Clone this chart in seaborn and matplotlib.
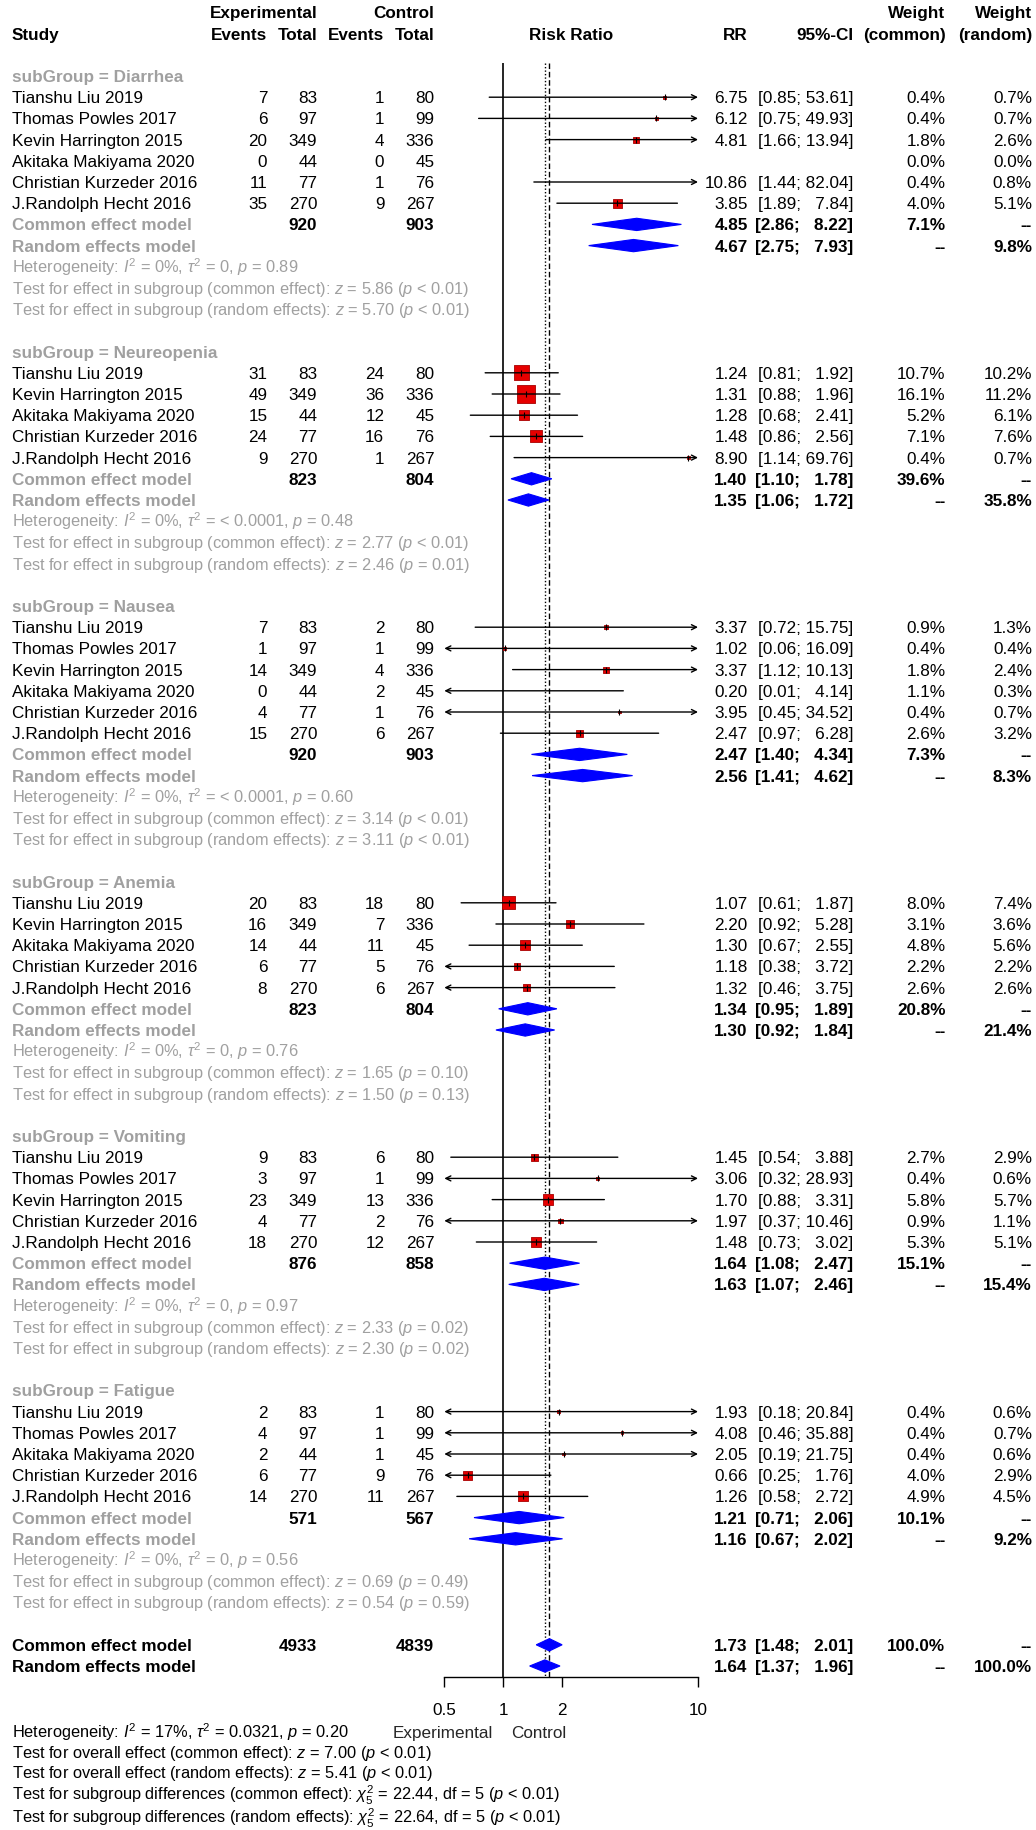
import numpy as np
import pandas as pd
import matplotlib
matplotlib.use("Agg")
import matplotlib.pyplot as plt
import matplotlib.transforms as mtransforms
from matplotlib.ticker import NullLocator
import seaborn as sns

nan = np.nan

# Data (one inner list per subgroup)
groups = ["Diarrhea", "Neureopenia", "Nausea", "Anemia", "Vomiting", "Fatigue"]

study = [
    ["Tianshu Liu 2019", "Thomas Powles 2017", "Kevin Harrington 2015", "Akitaka Makiyama 2020", "Christian Kurzeder 2016", "J.Randolph Hecht 2016"],
    ["Tianshu Liu 2019", "Kevin Harrington 2015", "Akitaka Makiyama 2020", "Christian Kurzeder 2016", "J.Randolph Hecht 2016"],
    ["Tianshu Liu 2019", "Thomas Powles 2017", "Kevin Harrington 2015", "Akitaka Makiyama 2020", "Christian Kurzeder 2016", "J.Randolph Hecht 2016"],
    ["Tianshu Liu 2019", "Kevin Harrington 2015", "Akitaka Makiyama 2020", "Christian Kurzeder 2016", "J.Randolph Hecht 2016"],
    ["Tianshu Liu 2019", "Thomas Powles 2017", "Kevin Harrington 2015", "Christian Kurzeder 2016", "J.Randolph Hecht 2016"],
    ["Tianshu Liu 2019", "Thomas Powles 2017", "Akitaka Makiyama 2020", "Christian Kurzeder 2016", "J.Randolph Hecht 2016"],
]
ev_exp = [[7, 6, 20, 0, 11, 35], [31, 49, 15, 24, 9], [7, 1, 14, 0, 4, 15], [20, 16, 14, 6, 8], [9, 3, 23, 4, 18], [2, 4, 2, 6, 14]]
n_exp = [[83, 97, 349, 44, 77, 270], [83, 349, 44, 77, 270], [83, 97, 349, 44, 77, 270], [83, 349, 44, 77, 270], [83, 97, 349, 77, 270], [83, 97, 44, 77, 270]]
ev_ctl = [[1, 1, 4, 0, 1, 9], [24, 36, 12, 16, 1], [2, 1, 4, 2, 1, 6], [18, 7, 11, 5, 6], [6, 1, 13, 2, 12], [1, 1, 1, 9, 11]]
n_ctl = [[80, 99, 336, 45, 76, 267], [80, 336, 45, 76, 267], [80, 99, 336, 45, 76, 267], [80, 336, 45, 76, 267], [80, 99, 336, 76, 267], [80, 99, 45, 76, 267]]
rr = [[6.75, 6.12, 4.81, nan, 10.86, 3.85], [1.24, 1.31, 1.28, 1.48, 8.90], [3.37, 1.02, 3.37, 0.20, 3.95, 2.47],
      [1.07, 2.20, 1.30, 1.18, 1.32], [1.45, 3.06, 1.70, 1.97, 1.48], [1.93, 4.08, 2.05, 0.66, 1.26]]
ci_lo = [[0.85, 0.75, 1.66, nan, 1.44, 1.89], [0.81, 0.88, 0.68, 0.86, 1.14], [0.72, 0.06, 1.12, 0.01, 0.45, 0.97],
         [0.61, 0.92, 0.67, 0.38, 0.46], [0.54, 0.32, 0.88, 0.37, 0.73], [0.18, 0.46, 0.19, 0.25, 0.58]]
ci_hi = [[53.61, 49.93, 13.94, nan, 82.04, 7.84], [1.92, 1.96, 2.41, 2.56, 69.76], [15.75, 16.09, 10.13, 4.14, 34.52, 6.28],
         [1.87, 5.28, 2.55, 3.72, 3.75], [3.88, 28.93, 3.31, 10.46, 3.02], [20.84, 35.88, 21.75, 1.76, 2.72]]
w_common = [[0.4, 0.4, 1.8, 0.0, 0.4, 4.0], [10.7, 16.1, 5.2, 7.1, 0.4], [0.9, 0.4, 1.8, 1.1, 0.4, 2.6],
            [8.0, 3.1, 4.8, 2.2, 2.6], [2.7, 0.4, 5.8, 0.9, 5.3], [0.4, 0.4, 0.4, 4.0, 4.9]]
w_random = [[0.7, 0.7, 2.6, 0.0, 0.8, 5.1], [10.2, 11.2, 6.1, 7.6, 0.7], [1.3, 0.4, 2.4, 0.3, 0.7, 3.2],
            [7.4, 3.6, 5.6, 2.2, 2.6], [2.9, 0.6, 5.7, 1.1, 5.1], [0.6, 0.7, 0.6, 2.9, 4.5]]

# subgroup pooled results
tot_exp = [920, 823, 920, 823, 876, 571]
tot_ctl = [903, 804, 903, 804, 858, 567]
com_rr = [4.85, 1.40, 2.47, 1.34, 1.64, 1.21]
com_lo = [2.86, 1.10, 1.40, 0.95, 1.08, 0.71]
com_hi = [8.22, 1.78, 4.34, 1.89, 2.47, 2.06]
com_w = [7.1, 39.6, 7.3, 20.8, 15.1, 10.1]
ran_rr = [4.67, 1.35, 2.56, 1.30, 1.63, 1.16]
ran_lo = [2.75, 1.06, 1.41, 0.92, 1.07, 0.67]
ran_hi = [7.93, 1.72, 4.62, 1.84, 2.46, 2.02]
ran_w = [9.8, 35.8, 8.3, 21.4, 15.4, 9.2]
het_i2 = ["0%", "0%", "0%", "0%", "0%", "0%"]
het_tau2 = ["0", "< 0.0001", "< 0.0001", "0", "0", "0"]
het_p = ["0.89", "0.48", "0.60", "0.76", "0.97", "0.56"]
z_com = ["5.86", "2.77", "3.14", "1.65", "2.33", "0.69"]
p_com = ["< 0.01", "< 0.01", "< 0.01", "= 0.10", "= 0.02", "= 0.49"]
z_ran = ["5.70", "2.46", "3.11", "1.50", "2.30", "0.54"]
p_ran = ["< 0.01", "= 0.01", "< 0.01", "= 0.13", "= 0.02", "= 0.59"]

# overall
all_tot = [4933, 4839]
all_rr = [1.73, 1.64]
all_lo = [1.48, 1.37]
all_hi = [2.01, 1.96]
bottom_text = [
    r"Heterogeneity: $I^2$ = 17%, $\tau^2$ = 0.0321, $p$ = 0.20",
    r"Test for overall effect (common effect): $z$ = 7.00 ($p$ < 0.01)",
    r"Test for overall effect (random effects): $z$ = 5.41 ($p$ < 0.01)",
    r"Test for subgroup differences (common effect): $\chi^2_5$ = 22.44, df = 5 ($p$ < 0.01)",
    r"Test for subgroup differences (random effects): $\chi^2_5$ = 22.64, df = 5 ($p$ < 0.01)",
]
x_ticks = [0.5, 1, 2, 10]
x_ticklabels = ["0.5", "1", "2", "10"]


# Style
sns.set_theme(style="white")
plt.rcParams['font.family'] = ['Liberation Sans', 'DejaVu Sans']
plt.rcParams['mathtext.fontset'] = 'custom'
plt.rcParams['mathtext.rm'] = 'Liberation Sans'
plt.rcParams['mathtext.it'] = 'Liberation Sans:italic'
plt.rcParams['mathtext.bf'] = 'Liberation Sans:bold'

FS = 12.3
FS_STAT = 11.8      # stats lines are drawn a bit narrower in the original
GRAY = '#A0A0A0'
W, H = 1036, 1830
row0, row_h = 76.0, 21.2          # pixel y of first subgroup row, row height
ax_x0, ax_x1, ax_y1 = 444.3, 698.0, 1676.7

# column anchors (pixels)
c_study, c_ee, c_ne, c_ec, c_nc = 12, 267.3, 317.3, 384.3, 434.3
c_rr, c_ci, c_wc, c_wr = 747.7, 853.3, 945.5, 1031.9

fig = plt.figure(figsize=(W / 100, H / 100), dpi=100)
ax = fig.add_axes([ax_x0 / W, (H - ax_y1) / H, (ax_x1 - ax_x0) / W, ax_y1 / H])
ax.set_xscale('log')

trans = mtransforms.blended_transform_factory(fig.transFigure, ax.transData)


def put(xpx, r, s, ha='right', color='black', bold=False, size=FS):
    ax.text(xpx / W, r + 0.28, s, transform=trans, ha=ha, va='baseline', fontsize=size,
            color=color, fontweight='bold' if bold else 'normal', clip_on=False)


def fmt_ci(lo, hi):
    hs = f"{hi:.2f}"
    return f"[{lo:.2f}; " + "  " * (5 - len(hs)) + hs + "]"


def ci_line(lo, hi, r):
    lo_c, hi_c = max(lo, 0.5), min(hi, 10)
    style = {(True, True): '<->', (True, False): '<-', (False, True): '->', (False, False): '-'}[(lo < 0.5, hi > 10)]
    ax.annotate('', xy=(hi_c, r), xytext=(lo_c, r),
                arrowprops=dict(arrowstyle=style, color='black', lw=1, shrinkA=0, shrinkB=0, mutation_scale=9),
                zorder=4)


def diamond(est, lo, hi, r, h=0.29):
    ax.fill([lo, est, hi, est], [r, r - h, r, r + h], color='#0000FF', ec='#0000FF', lw=0.8, zorder=3)


# Header
put(c_study, -2, "Study", ha='left', bold=True)
put(c_ne, -3, "Experimental", bold=True)
put(c_nc, -3, "Control", bold=True)
for xp, s in [(c_ee, "Events"), (c_ne, "Total"), (c_ec, "Events"), (c_nc, "Total"),
              (c_rr, "RR"), (c_ci, "95%-CI"), (c_wc, "(common)"), (c_wr, "(random)")]:
    put(xp, -2, s, bold=True)
put(c_wc, -3, "Weight", bold=True)
put(c_wr, -3, "Weight", bold=True)
put((ax_x0 + ax_x1) / 2, -2, "Risk Ratio", ha='center', bold=True)

# Rows
sq_rows = []
r = 0
for g in range(len(groups)):
    put(c_study, r, f"subGroup = {groups[g]}", ha='left', color=GRAY, bold=True)
    for i in range(len(study[g])):
        ri = r + 1 + i
        put(c_study, ri, study[g][i], ha='left')
        put(c_ee, ri, str(ev_exp[g][i]))
        put(c_ne, ri, str(n_exp[g][i]))
        put(c_ec, ri, str(ev_ctl[g][i]))
        put(c_nc, ri, str(n_ctl[g][i]))
        put(c_wc, ri, f"{w_common[g][i]:.1f}%")
        put(c_wr, ri, f"{w_random[g][i]:.1f}%")
        if not np.isnan(rr[g][i]):
            put(c_rr, ri, f"{rr[g][i]:.2f}")
            put(c_ci, ri, fmt_ci(ci_lo[g][i], ci_hi[g][i]))
            ci_line(ci_lo[g][i], ci_hi[g][i], ri)
            sq_rows.append((rr[g][i], ri, w_common[g][i]))
    k = len(study[g])
    rc, rran = r + k + 1, r + k + 2
    put(c_study, rc, "Common effect model", ha='left', color=GRAY, bold=True)
    put(c_ne, rc, str(tot_exp[g]), bold=True)
    put(c_nc, rc, str(tot_ctl[g]), bold=True)
    put(c_rr, rc, f"{com_rr[g]:.2f}", bold=True)
    put(c_ci, rc, fmt_ci(com_lo[g], com_hi[g]), bold=True)
    put(c_wc, rc, f"{com_w[g]:.1f}%", bold=True)
    put(c_wr, rc, "--", bold=True)
    diamond(com_rr[g], com_lo[g], com_hi[g], rc)
    put(c_study, rran, "Random effects model", ha='left', color=GRAY, bold=True)
    put(c_rr, rran, f"{ran_rr[g]:.2f}", bold=True)
    put(c_ci, rran, fmt_ci(ran_lo[g], ran_hi[g]), bold=True)
    put(c_wc, rran, "--", bold=True)
    put(c_wr, rran, f"{ran_w[g]:.1f}%", bold=True)
    diamond(ran_rr[g], ran_lo[g], ran_hi[g], rran)
    put(c_study, r + k + 3, rf"Heterogeneity: $I^2$ = {het_i2[g]}, $\tau^2$ = {het_tau2[g]}, $p$ = {het_p[g]}",
        ha='left', color=GRAY, size=FS_STAT)
    put(c_study, r + k + 4, rf"Test for effect in subgroup (common effect): $z$ = {z_com[g]} ($p$ {p_com[g]})",
        ha='left', color=GRAY, size=FS_STAT)
    put(c_study, r + k + 5, rf"Test for effect in subgroup (random effects): $z$ = {z_ran[g]} ($p$ {p_ran[g]})",
        ha='left', color=GRAY, size=FS_STAT)
    r += k + 7

# Overall
put(c_study, r, "Common effect model", ha='left', bold=True)
put(c_ne, r, str(all_tot[0]), bold=True)
put(c_nc, r, str(all_tot[1]), bold=True)
put(c_rr, r, f"{all_rr[0]:.2f}", bold=True)
put(c_ci, r, fmt_ci(all_lo[0], all_hi[0]), bold=True)
put(c_wc, r, "100.0%", bold=True)
put(c_wr, r, "--", bold=True)
diamond(all_rr[0], all_lo[0], all_hi[0], r)
put(c_study, r + 1, "Random effects model", ha='left', bold=True)
put(c_rr, r + 1, f"{all_rr[1]:.2f}", bold=True)
put(c_ci, r + 1, fmt_ci(all_lo[1], all_hi[1]), bold=True)
put(c_wc, r + 1, "--", bold=True)
put(c_wr, r + 1, "100.0%", bold=True)
diamond(all_rr[1], all_lo[1], all_hi[1], r + 1)

# Squares sized by common-effect weight (area ~ weight)
df_sq = pd.DataFrame(sq_rows, columns=['rr', 'row', 'w'])
df_sq = df_sq[(df_sq['rr'] >= 0.5) & (df_sq['rr'] <= 10)]
sns.scatterplot(data=df_sq, x='rr', y='row', size='w', sizes=(0, 168), size_norm=(0, 16.1),
                marker='s', color='#E60000', edgecolor='#A80000', linewidth=0.6, legend=False, ax=ax, zorder=3)
ax.plot(df_sq['rr'], df_sq['row'], '|', ms=4, mew=0.8, color='black', zorder=5)

# Reference lines
y_top = (63.3 - row0) / row_h
y_bot = (ax_y1 - row0) / row_h
ax.vlines(1, y_top, y_bot, color='black', lw=1.2, zorder=2)
ax.vlines(all_rr[0], y_top, y_bot, color='black', lw=1, linestyles=(0, (4, 2)), zorder=2)
ax.vlines(all_rr[1], y_top, y_bot, color='black', lw=1, linestyles=(0, (1, 1.5)), zorder=2)

# Axes
ax.set_xlim(0.5, 10)
ax.set_ylim(y_bot, (0 - row0) / row_h)
ax.set_xticks(x_ticks)
ax.set_xticklabels(x_ticklabels)
ax.xaxis.set_minor_locator(NullLocator())
ax.set_yticks([])
ax.set_xlabel("")
ax.set_ylabel("")
for side in ['top', 'left', 'right']:
    ax.spines[side].set_visible(False)
ax.spines['bottom'].set_color('black')
ax.spines['bottom'].set_linewidth(1)
ax.tick_params(axis='x', which='major', bottom=True, direction='out', length=7.2, width=1,
               color='black', labelsize=FS, pad=12, labelcolor='black')
ax.patch.set_alpha(0)

r_lab = (1731.7 - row0) / row_h
ax.text(0.885, r_lab + 0.28, "Experimental", ha='right', va='baseline', fontsize=FS, clip_on=False)
ax.text(1.10, r_lab + 0.28, "Control", ha='left', va='baseline', fontsize=FS, clip_on=False)

for j, s in enumerate(bottom_text):
    put(c_study, r_lab + [0, 0.95, 1.9, 2.95, 4.05][j], s, ha='left', size=FS_STAT)

fig.savefig("out.png", dpi=100)
